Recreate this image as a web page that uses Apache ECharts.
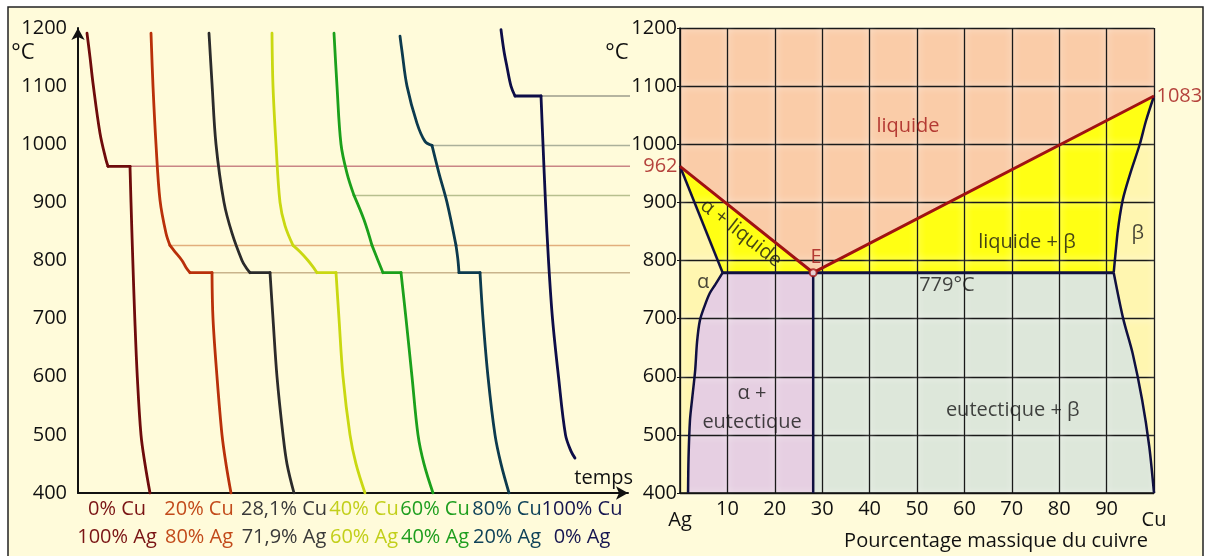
<!DOCTYPE html>
<html><head><meta charset="utf-8">
<script src="https://cdn.jsdelivr.net/npm/echarts@6/dist/echarts.min.js"></script>
<style>html,body{margin:0;padding:0;background:#fff;}#c{width:1211px;height:556px;}</style>
</head><body><div id="c"></div>
<script>
// ---------- DATA ----------
// Left chart: cooling curves [time, °C]
const curve0Cu   = [[9,1191],[12,1150],[15,1105],[22,1019],[28,973],[30,962],[52,962],[53,900],[54.8,800],[56.8,700],[59.3,600],[63,500],[67,450],[72,400]];
const curve20Cu  = [[73,1191],[75,1100],[78,1000],[82,904],[88,847],[92,826],[97,815],[104,800],[108,788],[112,779],[134,779],[135,700],[139,600],[144,500],[148,450],[153,400]];
const curve281Cu = [[131,1191],[134,1105],[138,1000],[146,900],[154,847],[164,800],[168,788],[172,779],[192,779],[195,700],[199,600],[205,500],[209,450],[216,400]];
const curve40Cu  = [[194,1191],[195,1100],[198,1000],[202,900],[207,860],[215,826],[222,815],[230,800],[235,789],[239,779],[258,779],[261,700],[265,600],[272,500],[278,450],[287,400]];
const curve60Cu  = [[256,1191],[259,1100],[263,1000],[269,950],[276,912],[286,870],[294,826],[300,800],[305,779],[323,779],[328,700],[334,600],[340,500],[346,450],[355,400]];
const curve80Cu  = [[322,1186],[324,1160],[329,1100],[339,1036],[347,1005],[354,998],[361,950],[369,900],[378,826],[380,800],[381,779],[402,779],[405,700],[410,600],[417,500],[423,450],[431,400]];
const curve100Cu = [[423,1197],[426,1160],[429,1133],[433,1100],[437,1083],[463,1083],[465,1000],[467.5,900],[470.5,800],[474.5,700],[480.5,600],[487.5,500],[493,472],[497,460]];
const compCu = ['0% Cu','20% Cu','28,1% Cu','40% Cu','60% Cu','80% Cu','100% Cu'];
const compAg = ['100% Ag','80% Ag','71,9% Ag','60% Ag','40% Ag','20% Ag','0% Ag'];
// guide lines: temperature and time where they start
const guideTemps = [1083, 998, 962, 912, 826, 779];
const guideStart = [463, 354, 52, 276, 92, 134];
// Right chart: phase diagram boundaries [% Cu, °C]
const liquidus     = [[0,962],[28.1,779],[100,1083]];
const alphaSolidus = [[0,962],[9,779]];
const alphaSolvus  = [[9,779],[7.4,758],[6.3,744],[5.2,722],[4.2,697],[3.6,660],[3.2,611],[2.6,565],[2.1,525],[1.8,460],[1.7,400]];
const eutecticLine = [[9,779],[91.5,779]];
const eutecticVert = [[28.1,779],[28.1,400]];
const betaSolidus  = [[100,1083],[98.3,1040],[97,1000],[95,950],[93.4,904],[92.3,847],[91.5,779]];
const betaSolvus   = [[91.5,779],[93.5,700],[95.5,640],[97.5,560],[99,480],[100,400]];
const eutecticPoint = [28.1,779];
const meltAg = [0,962], meltCu = [100,1083];

// ---------- LAYOUT / STYLE ----------
const BG = '#FFFBDA';
const L = {left:78, top:28, width:550, height:465};
const R = {left:680, top:28, width:474, height:465};
const curveColors = ['#6E0B0B','#B9300A','#2B2B2B','#C9D811','#1BA01B','#0C3A4E','#0D0D48'];
const labelColors = ['#7A1414','#C24A1A','#3A3A3A','#C2CF1A','#1E9E1E','#0F4259','#151550'];
const guideColors = ['#9C9C8C','#ABB09A','#C98585','#B7BF8E','#E2AE7C','#C9B48C'];
const labelCx = [117,199,284,364,435,507,582];
const FONT = '"Open Sans", "Noto Sans", sans-serif';
const RED = '#A31515';

const curves = [curve0Cu,curve20Cu,curve281Cu,curve40Cu,curve60Cu,curve80Cu,curve100Cu];
const pxPerUnit = L.width / 550;
const rightAxisT = (R.left - L.left) / pxPerUnit;
const rightEndT = (R.left + R.width - L.left) / pxPerUnit;

const series = [];
// phase region polygons
function poly(points, color){
  return {type:'custom', xAxisIndex:1, yAxisIndex:1, z:1, silent:true, clip:true,
    data:[[50,800]],
    renderItem:(p, api)=>({type:'polygon', shape:{points: points.map(q=>api.coord(q)), smooth:0}, style:{fill:color}})};
}
const rev = a => a.slice().reverse();
series.push(poly([[0,1200],[100,1200],meltCu,eutecticPoint,meltAg], '#FACCA8'));
series.push(poly([meltAg,eutecticPoint,alphaSolidus[1]], '#FFFF14'));
series.push(poly([eutecticPoint,meltCu,...betaSolidus.slice(1)], '#FFFF14'));
series.push(poly([meltAg,...alphaSolvus,[0,400]], '#FFF6B0'));
series.push(poly([...betaSolidus,...betaSolvus.slice(1)], '#FFF6B0'));
series.push(poly([alphaSolvus[0],eutecticPoint,eutecticVert[1],...rev(alphaSolvus).slice(0,-1)], '#E6CFE2'));
series.push(poly([eutecticPoint,...betaSolvus,eutecticVert[1]], '#DDE7DA'));

// boundary lines
function bline(data, color, width, z, smooth){
  return {type:'line', xAxisIndex:1, yAxisIndex:1, data, symbol:'none', silent:true, z:z||5,
    smooth:smooth||false, lineStyle:{color, width}};
}
series.push(bline(liquidus, '#A01212', 3, 6));
series.push(bline(alphaSolidus, '#101040', 2.5));
series.push(bline(alphaSolvus, '#101040', 2.5, 5, 0.3));
series.push(bline(eutecticLine, '#101040', 3));
series.push(bline(eutecticVert, '#101040', 2.5));
series.push(bline(betaSolidus, '#101040', 2.5, 5, 0.3));
series.push(bline(betaSolvus, '#101040', 2.5, 5, 0.3));
series.push({type:'scatter', xAxisIndex:1, yAxisIndex:1, z:7, silent:true, data:[eutecticPoint],
  symbol:'emptyCircle', symbolSize:7, itemStyle:{color:RED, borderColor:RED, borderWidth:1.5}});

// melting point labels
series.push({type:'scatter', xAxisIndex:1, yAxisIndex:1, z:8, silent:true, symbolSize:1,
  itemStyle:{color:'rgba(0,0,0,0)'},
  data:[
    {value:meltAg, label:{show:true, position:'left', distance:2, formatter:'962', color:RED, fontSize:20, fontFamily:FONT, backgroundColor:BG, lineHeight:18}},
    {value:meltCu, label:{show:true, position:'right', distance:2, formatter:'1083', color:RED, fontSize:20, fontFamily:FONT}}
  ]});

// annotations in the phase diagram
const notes = [
  {v:[48.1,1031], t:'liquide', c:RED},
  {v:[12.9,847], t:'α + liquide', c:'#151515', r:-38},
  {v:[28.7,805], t:'E', c:RED},
  {v:[73.2,832], t:'liquide + β', c:'#151515'},
  {v:[96.6,847], t:'β', c:'#151515'},
  {v:[4.9,763], t:'α', c:'#151515'},
  {v:[56.3,758], t:'779°C', c:'#151515'},
  {v:[15.2,572], t:'α +', c:'#151515'},
  {v:[15.2,522], t:'eutectique', c:'#151515'},
  {v:[70.2,543], t:'eutectique + β', c:'#151515'}
];
series.push({type:'scatter', xAxisIndex:1, yAxisIndex:1, z:9, silent:true, symbolSize:1,
  itemStyle:{color:'rgba(0,0,0,0)'},
  data: notes.map(n=>({value:n.v, label:{show:true, position:'inside', formatter:n.t, color:n.c, fontSize:20, fontFamily:FONT, rotate:n.r||0}}))});

// guide lines (left grid units, unclipped)
guideTemps.forEach((T,i)=>{
  const end = T === meltCu[1] ? rightEndT : rightAxisT;
  series.push({type:'line', xAxisIndex:0, yAxisIndex:0, clip:false, symbol:'none', silent:true, z:2,
    data:[[guideStart[i],T],[end,T]], lineStyle:{color:guideColors[i], width:1.5}});
});
// cooling curves: split at knees / plateau ends so corners stay sharp, smooth in between
curves.forEach((c,i)=>{
  const breaks = [0];
  for (let k=1;k<c.length-1;k++) if (guideTemps.includes(c[k][1])) breaks.push(k);
  breaks.push(c.length-1);
  for (let b=0;b<breaks.length-1;b++){
    const seg = c.slice(breaks[b], breaks[b+1]+1);
    series.push({type:'line', xAxisIndex:0, yAxisIndex:0, data:seg, symbol:'none', silent:true, z:4,
      smooth: seg.length>2 ? 0.35 : false,
      lineStyle:{color:curveColors[i], width:2.8, cap:'round', join:'round'}});
  }
});

// graphic texts
const graphics = [
  {type:'rect', z:-10, shape:{x:8, y:7, width:1195, height:560}, style:{fill:BG, stroke:'#222', lineWidth:1.5}},
  {type:'text', x:23, y:53, style:{text:'°C', fontSize:22, fontFamily:FONT, fill:'#111', align:'center', verticalAlign:'middle'}},
  {type:'text', x:617, y:53, style:{text:'°C', fontSize:22, fontFamily:FONT, fill:'#111', align:'center', verticalAlign:'middle'}},
  {type:'text', x:633, y:478, style:{text:'temps', fontSize:20, fontFamily:FONT, fill:'#111', align:'right', verticalAlign:'middle'}},
  {type:'text', x:996, y:541, style:{text:'Pourcentage massique du cuivre', fontSize:20, fontFamily:FONT, fill:'#111', align:'center', verticalAlign:'middle'}}
];
compCu.forEach((t,i)=>{
  graphics.push({type:'text', x:labelCx[i], y:509, style:{text:t, fontSize:20, fontFamily:FONT, fill:labelColors[i], align:'center', verticalAlign:'middle'}});
  graphics.push({type:'text', x:labelCx[i], y:537, style:{text:compAg[i], fontSize:20, fontFamily:FONT, fill:labelColors[i], align:'center', verticalAlign:'middle'}});
});

const gridLine = {color:'#1A1A1A', width:1.3, shadowColor:'rgba(255,255,255,0.95)', shadowBlur:7};
const option = {
  animation:false,
  backgroundColor:'#ffffff',
  textStyle:{fontFamily:FONT},
  grid:[
    {left:L.left, top:L.top, width:L.width, height:L.height},
    {left:R.left, top:R.top, width:R.width, height:R.height}
  ],
  xAxis:[
    {gridIndex:0, type:'value', min:0, max:550,
      axisLine:{show:true, onZero:false, symbol:['none','arrow'], symbolSize:[10,12], lineStyle:{color:'#111', width:2}},
      axisLabel:{show:false}, axisTick:{show:false}, splitLine:{show:false}},
    {gridIndex:1, type:'value', min:0, max:100, interval:10, z:3,
      axisLine:{show:true, onZero:false, lineStyle:{color:'#111', width:1.5}},
      axisTick:{show:false},
      axisLabel:{show:true, margin:6, fontSize:20, fontFamily:FONT, color:'#111', showMinLabel:true, showMaxLabel:true,
        formatter:v=> v===0 ? '{e|Ag}' : (v===100 ? '{e|Cu}' : String(v)),
        rich:{e:{fontSize:20, fontFamily:FONT, color:'#111', padding:[11,0,0,0]}}},
      splitLine:{show:true, lineStyle:gridLine}}
  ],
  yAxis:[
    {gridIndex:0, type:'value', min:400, max:1200, interval:100,
      axisLine:{show:true, onZero:false, symbol:['none','arrow'], symbolSize:[10,12], lineStyle:{color:'#111', width:2}},
      axisTick:{show:false}, splitLine:{show:false},
      axisLabel:{margin:11, fontSize:20, fontFamily:FONT, color:'#111', formatter:v=>String(v)}},
    {gridIndex:1, type:'value', min:400, max:1200, interval:100, z:3,
      axisLine:{show:true, onZero:false, lineStyle:{color:'#111', width:1.5}},
      axisTick:{show:true, length:3, lineStyle:{color:'#111'}},
      axisLabel:{margin:3, fontSize:20, fontFamily:FONT, color:'#111', backgroundColor:BG, lineHeight:18, formatter:v=>String(v)},
      splitLine:{show:true, lineStyle:gridLine}}
  ],
  graphic:{elements:graphics},
  series
};
const chart = echarts.init(document.getElementById('c'), null, {renderer:'canvas'});
chart.setOption(option);
</script></body></html>
